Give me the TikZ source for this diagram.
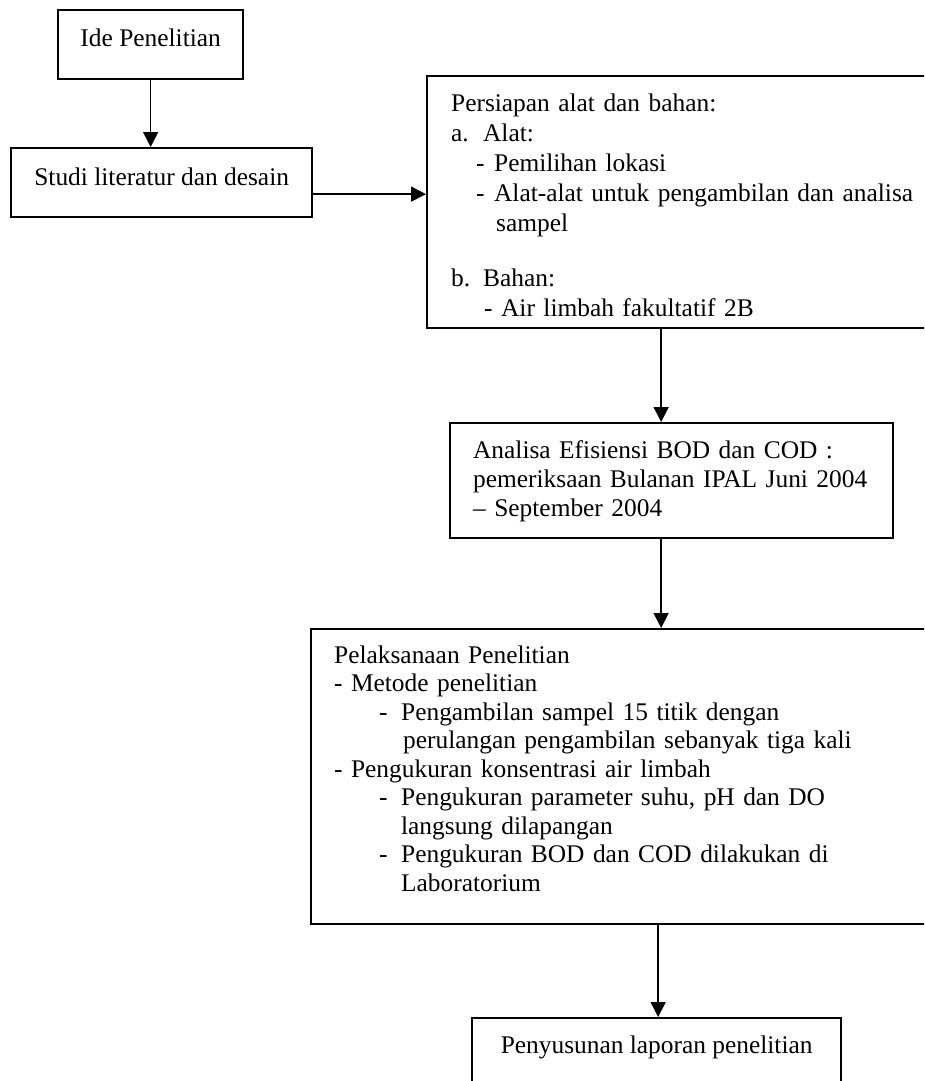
\documentclass[tikz,border=0pt]{standalone}
\usepackage{fontspec}
\setmainfont{Liberation Serif}
\usetikzlibrary{arrows.meta, positioning, calc}

\tikzset{
  kotak/.style={draw, rectangle, line width=2.3pt, inner ysep=0pt, anchor=north west,
    font=\fontsize{25.4pt}{29pt}\selectfont},
  panah/.style={-{Triangle[length=15pt,width=15pt]}, line width=1.6pt}
}

\begin{document}
\begin{tikzpicture}[x=1pt,y=-1pt]
\useasboundingbox (0,0) rectangle (924,1081);
\clip (0,0) rectangle (924,1081);

\node[kotak, minimum width=185pt, text height=36pt, text depth=33pt] (ide) at (57,9) {Ide Penelitian};
\node[kotak, minimum width=301pt, text height=37pt, text depth=32pt] (studi) at (10,147) {Studi literatur dan desain};
\node[kotak, inner xsep=24pt, text width=490pt, align=left, text height=35pt, text depth=217pt,
  font=\fontsize{25.4pt}{30pt}\selectfont] (siap) at (426,75)
  {Persiapan alat dan bahan:\\
   \makebox[32pt][l]{a.}Alat:\\
   \hspace*{25pt}\makebox[18pt][l]{-}Pemilihan lokasi\\
   \hspace*{25pt}\makebox[18pt][l]{-}Alat-alat untuk pengambilan dan analisa\\
   \hspace*{45pt}sampel\\[25pt]
   \makebox[32pt][l]{b.}Bahan:\\
   \hspace*{33pt}\makebox[17pt][l]{-}Air limbah fakultatif 2B};
\node[kotak, inner xsep=23pt, text width=397pt, align=left, text height=35pt, text depth=80pt] (analisa) at (449,422)
  {Analisa Efisiensi BOD dan COD :\\
   pemeriksaan Bulanan IPAL Juni 2004\\
   -- September 2004};
\node[kotak, inner xsep=23pt, text width=600pt, align=left, text height=34pt, text depth=261pt,
  font=\fontsize{25.4pt}{28.5pt}\selectfont] (laksana) at (310,628)
  {Pelaksanaan Penelitian\\
   - Metode penelitian\\
   \hspace*{45pt}\makebox[22pt][l]{-}Pengambilan sampel 15 titik dengan\\
   \hspace*{69pt}perulangan pengambilan sebanyak tiga kali\\
   - Pengukuran konsentrasi air limbah\\
   \hspace*{45pt}\makebox[22pt][l]{-}Pengukuran parameter suhu, pH dan DO\\
   \hspace*{67pt}langsung dilapangan\\
   \hspace*{45pt}\makebox[22pt][l]{-}Pengukuran BOD dan COD dilakukan di\\
   \hspace*{67pt}Laboratorium};
\node[kotak, minimum width=369pt, text height=35pt, text depth=60pt] (susun) at (471,1017) {Penyusunan laporan penelitian};

\coordinate (a1) at ([yshift=-11.5pt]studi.east);
\coordinate (a2) at ([xshift=-10.5pt]analisa.north);
\coordinate (a3) at ([xshift=-10.5pt]analisa.south);
\coordinate (a4) at ([xshift=1.5pt]susun.north);

%arrows
\draw[panah] (ide.south) -- (ide.south |- studi.north);
\draw[panah] (a1) -- (a1 -| siap.west);
\draw[panah] (a2 |- siap.south) -- (a2);
\draw[panah] (a3) -- (a3 |- laksana.north);
\draw[panah] (a4 |- laksana.south) -- (a4);
\end{tikzpicture}
\end{document}
